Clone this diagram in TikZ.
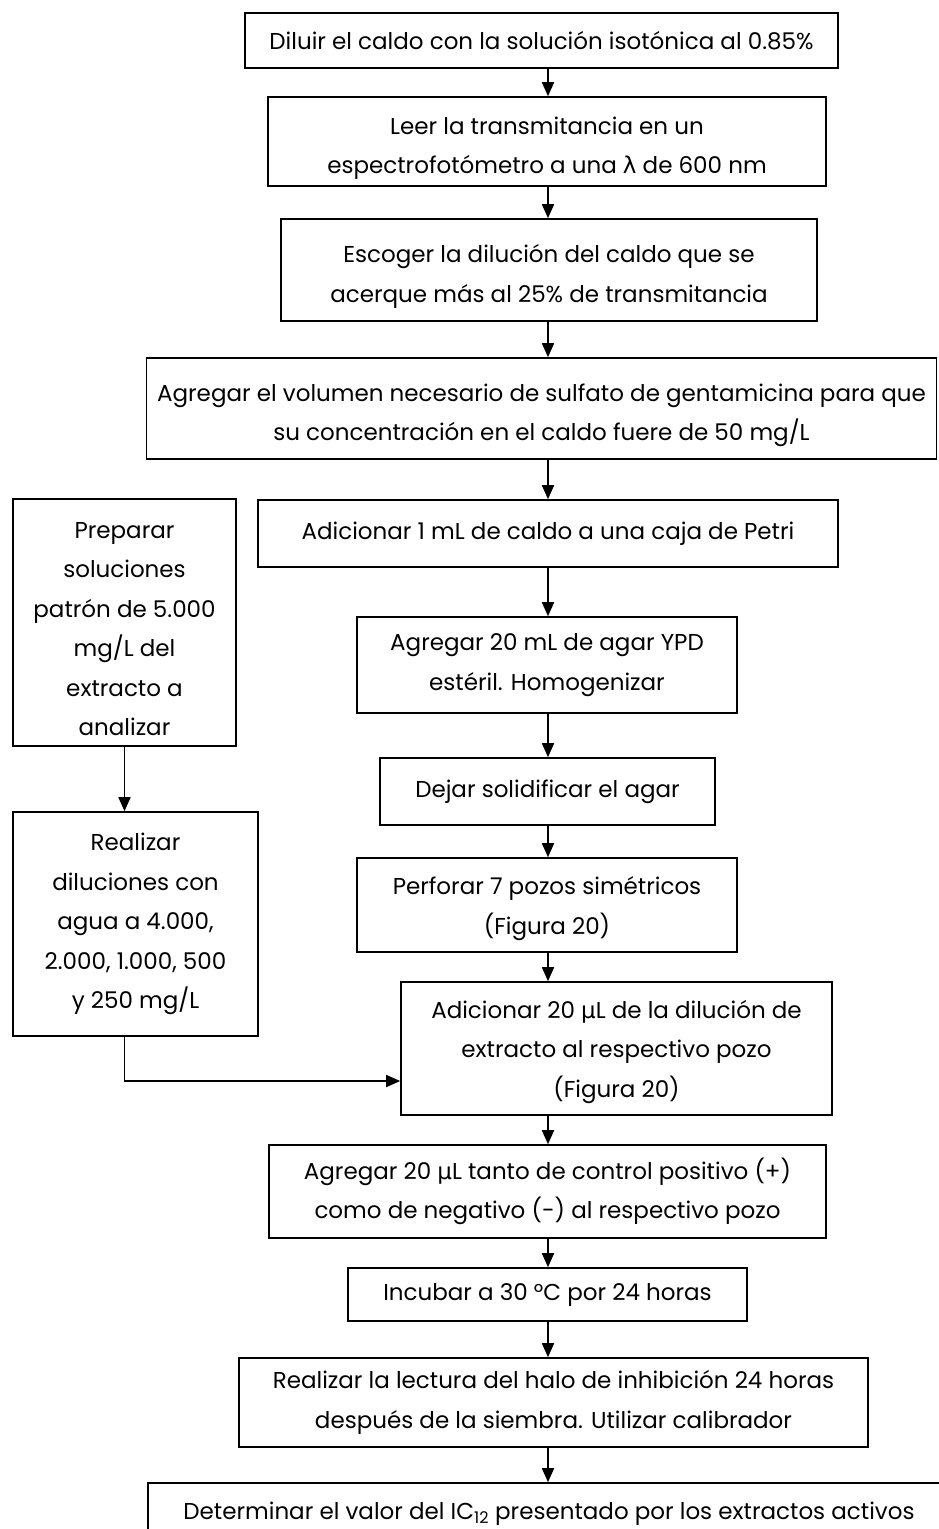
\documentclass[tikz,border=0pt]{standalone}
\usepackage{fontspec}
\setmainfont{Poppins}
\newfontfamily\grk{DejaVu Sans}
\usetikzlibrary{arrows.meta}
% extra room above the first line, to set a box's text a little lower
\newcommand\tdn[1]{\rule{0pt}{#1pt}}
\begin{document}
\begin{tikzpicture}[x=1pt,y=-1pt,
  box/.style={draw, line width=1.6pt, align=center, inner sep=0pt,
    font=\fontsize{23}{39.5}\selectfont},
  arr/.style={line width=1.7pt, -{Triangle[length=14pt,width=12pt]}}]
\useasboundingbox (0,0) rectangle (938,1529);

% main column
\node[box, minimum width=593pt, minimum height=55pt] (b1) at (541.5,40.5)
  {Diluir el caldo con la solución isotónica al 0.85\%};
\node[box, minimum width=558pt, minimum height=89pt] (b2) at (547,141.5)
  {\tdn{31}Leer la transmitancia en un\\espectrofotómetro a una {\grk λ} de 600 nm};
\node[box, minimum width=536pt, minimum height=102pt] (b3) at (549,270)
  {\tdn{31}Escoger la dilución del caldo que se\\acerque más al 25\% de transmitancia};
\node[box, minimum width=790pt, minimum height=101pt] (b4) at (541.5,408.5)
  {\tdn{31}Agregar el volumen necesario de sulfato de gentamicina para que\\su concentración en el caldo fuere de 50 mg/L};
\node[box, minimum width=580pt, minimum height=67pt] (b5) at (548,533.5)
  {Adicionar 1 mL de caldo a una caja de Petri};
\node[box, minimum width=380pt, minimum height=96pt] (b6) at (547,665)
  {Agregar 20 mL de agar YPD\\estéril. Homogenizar};
\node[box, minimum width=335pt, minimum height=67pt] (b7) at (547.5,791.5)
  {Dejar solidificar el agar};
\node[box, minimum width=380pt, minimum height=94pt] (b8) at (547,905)
  {\tdn{25}Perforar 7 pozos simétricos\\(Figura 20)};
\node[box, minimum width=431pt, minimum height=133pt] (b9) at (616.5,1048.5)
  {\tdn{25}Adicionar 20 {\grk µ}L de la dilución de\\extracto al respectivo pozo\\(Figura 20)};
\node[box, minimum width=557pt, minimum height=93pt] (b10) at (547.5,1191.5)
  {Agregar 20 {\grk µ}L tanto de control positivo (+)\\como de negativo (-) al respectivo pozo};
\node[box, minimum width=399pt, minimum height=53pt] (b11) at (547.5,1294.5)
  {Incubar a 30 °C por 24 horas};
\node[box, minimum width=629pt, minimum height=89pt] (b12) at (553.5,1402.5)
  {Realizar la lectura del halo de inhibición 24 horas\\después de la siembra. Utilizar calibrador};
\node[box, minimum width=802pt, minimum height=62pt] (b13) at (549,1514)
  {Determinar el valor del IC\textsubscript{12} presentado por los extractos activos};

% side column
\node[box, minimum width=223pt, minimum height=247pt] (sa) at (124.5,622.5)
  {\tdn{29}Preparar\\soluciones\\patrón de 5.000\\mg/L del\\extracto a\\analizar};
\node[box, minimum width=245pt, minimum height=224pt] (sb) at (135.5,924)
  {Realizar\\diluciones con\\agua a 4.000,\\2.000, 1.000, 500\\y 250 mg/L};

% connectors
\coordinate (ax) at (548,0);
\coordinate (jn) at (0,1081);
\foreach \u/\v in {b1/b2,b2/b3,b3/b4,b4/b5,b5/b6,b6/b7,b7/b8,b8/b9,b9/b10,b10/b11,b11/b12,b12/b13}
  \draw[arr] (\u.south -| ax) -- (\v.north -| ax);
\draw[arr] (sa.south) -- (sb.north -| sa.south);
\draw[arr] (sb.south -| sa.south) |- (b9.west |- jn);
\end{tikzpicture}
\end{document}
